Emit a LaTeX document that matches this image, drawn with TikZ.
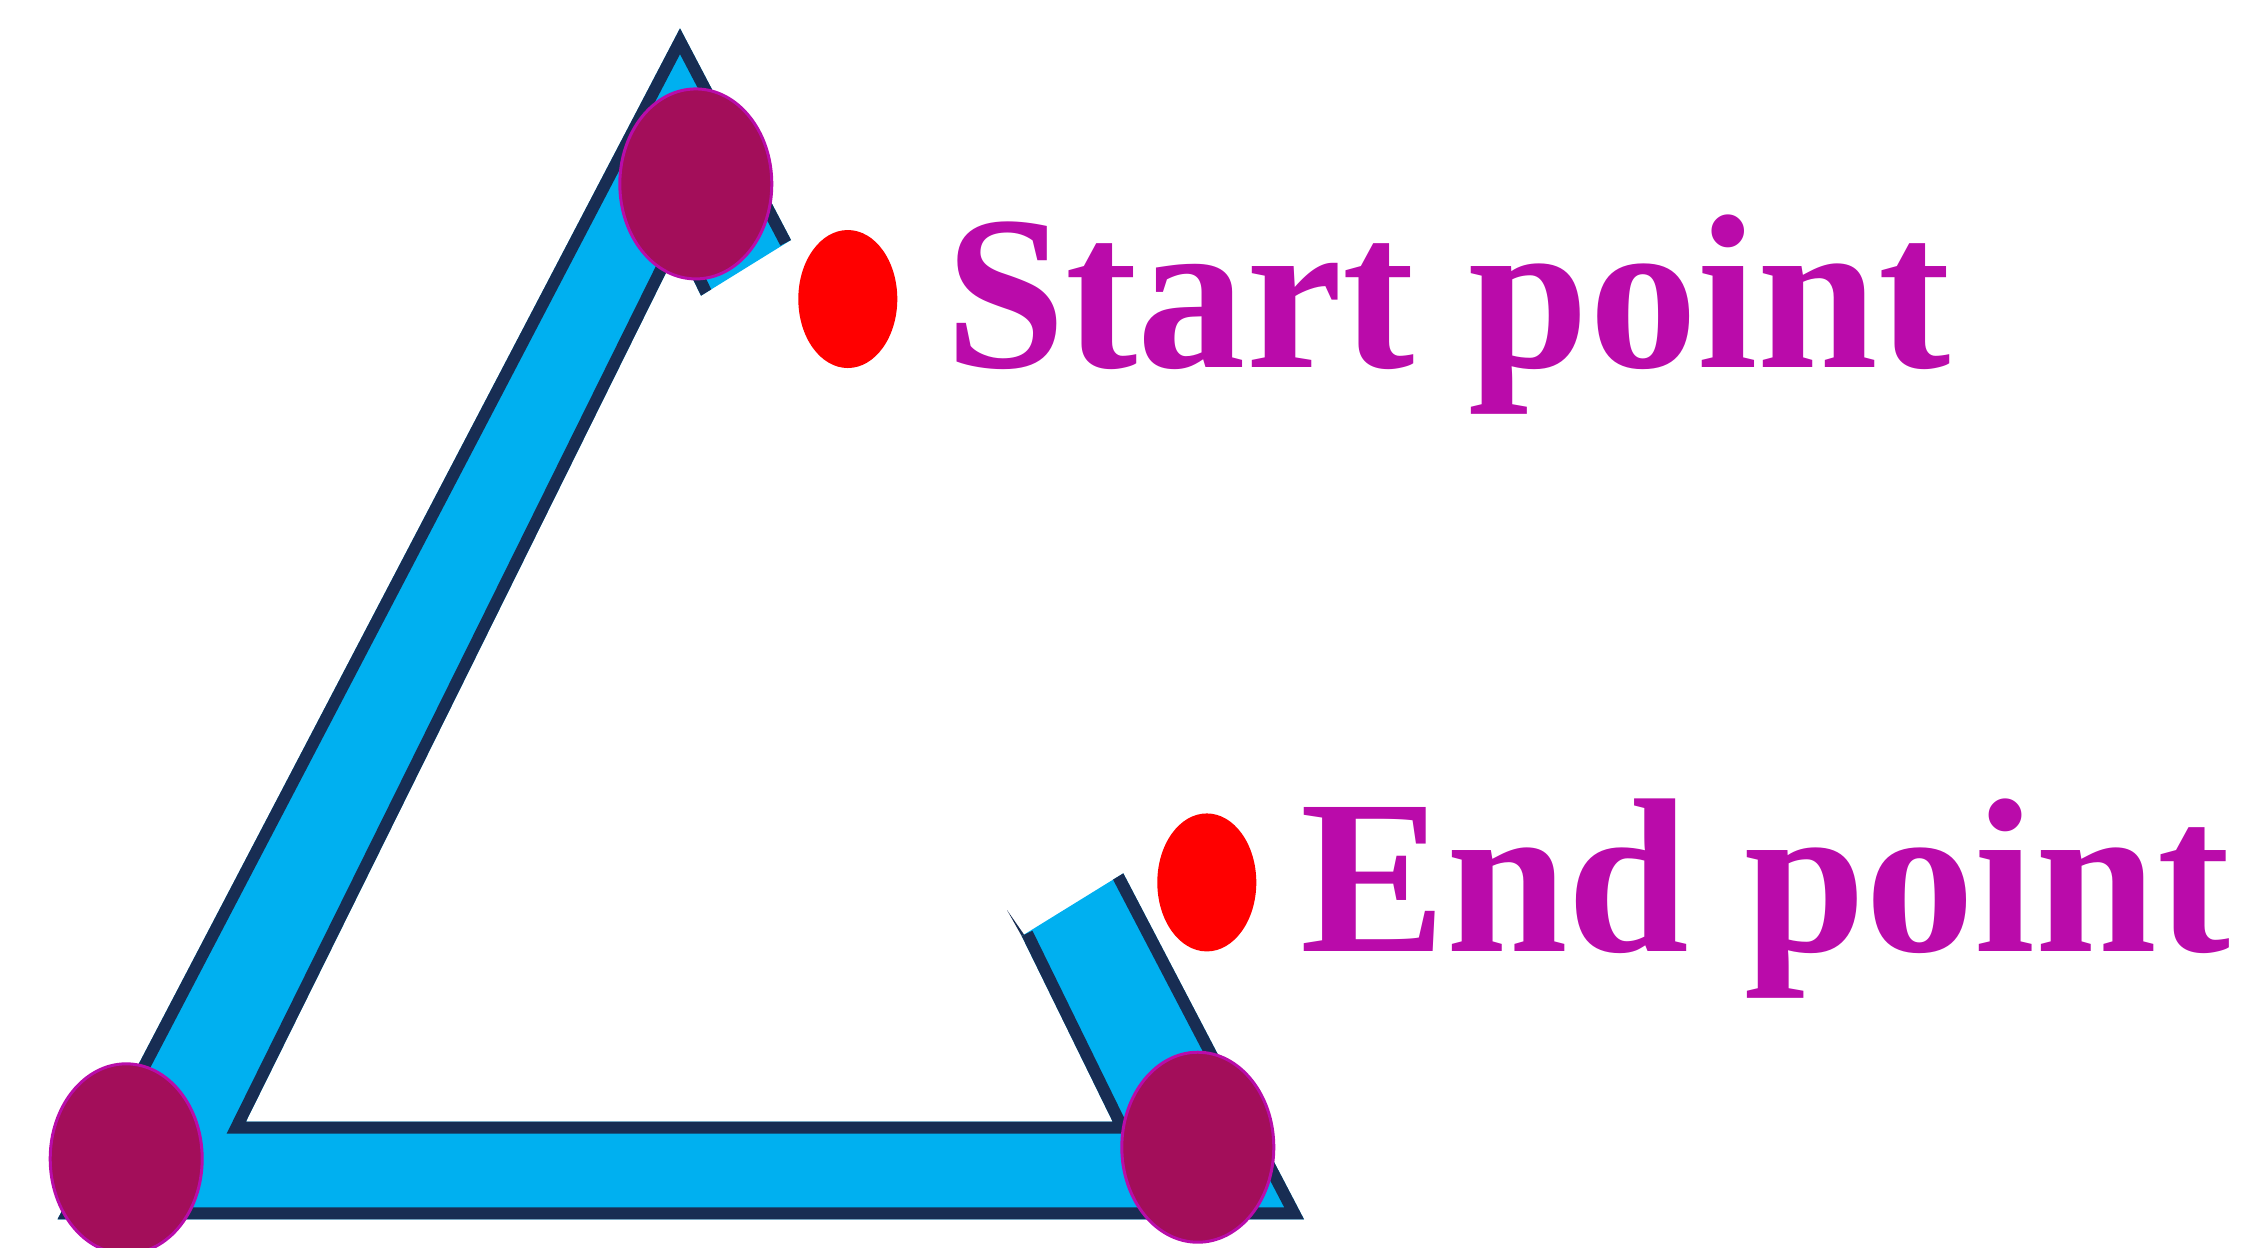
\documentclass[tikz,border=0pt]{standalone}
\usepackage{fontspec}
\usepackage{graphicx}
\newfontfamily\capfont{Liberation Serif}[UprightFont=* Bold]
\usetikzlibrary{shapes.geometric}
\definecolor{bandblue}{RGB}{0,176,240}
\definecolor{banddark}{RGB}{24,45,83}
\definecolor{jointfill}{RGB}{163,14,90}
\definecolor{jointedge}{RGB}{185,12,170}
\definecolor{labelmag}{RGB}{186,11,170}
\tikzset{
  joint/.style={ellipse, draw=jointedge, fill=jointfill, line width=0.75pt,
    minimum width=38pt, minimum height=47.5pt, inner sep=0pt},
  marker/.style={ellipse, fill=red, minimum width=24.75pt, minimum height=34.5pt, inner sep=0pt},
  caption/.style={anchor=base west, inner sep=0pt, text=labelmag,
    font=\capfont\fontsize{55}{65}\selectfont},
  bandedge/.style={banddark, line width=6pt, line join=miter},
}
\begin{document}
\begin{tikzpicture}[x=0.25pt,y=-0.25pt]
\useasboundingbox (0,0) rectangle (2251,1247);
% band outline points
\coordinate (p1) at (791,240);
\coordinate (p2) at (680,28.3);
\coordinate (p3) at (57.5,1219.3);
\coordinate (p4) at (1304,1219.3);
\coordinate (p5) at (1123.3,873.3);
\coordinate (p6) at (1021.7,936);
\coordinate (p7) at (1112.7,1121.7);
\coordinate (p8) at (246,1121.5);
\coordinate (p9) at (678,248.5);
\coordinate (p10) at (701,295.7);
\fill[bandblue] (p1)--(p2)--(p3)--(p4)--(p5)--(p6)--(p7)--(p8)--(p9)--(p10)--cycle;
\begin{scope}
  \clip (p1)--(p2)--(p3)--(p4)--(p5)--(p6)--(p7)--(p8)--(p9)--(p10)--cycle;
  \draw[bandedge] (p1)--(p2)--(p3)--(p4)--(p5);
  \draw[bandedge] (p6)--(p7)--(p8)--(p9)--(p10);
\end{scope}
\coordinate (q1) at (1007,910);
\coordinate (q2) at (1024,934.5);
\fill[banddark] (q1)--(q2)--(p6)--cycle;
% joints
\node[joint] (s1) at (695.8,183.9) {};
\node[joint] (s2) at (126.2,1158.8) {};
\node[joint] (s3) at (1197.8,1147.2) {};
% markers
\node[marker] (r1) at (847.8,299) {};
\node[marker] (r2) at (1206.8,882.4) {};
% labels
\node[caption] (tstart) at (944.4,367.7) {\scalebox{0.985}[1]{Start point}};
\node[caption] (tend) at (1299.5,951.7) {\scalebox{0.994}[1]{End point}};
\end{tikzpicture}
\end{document}
